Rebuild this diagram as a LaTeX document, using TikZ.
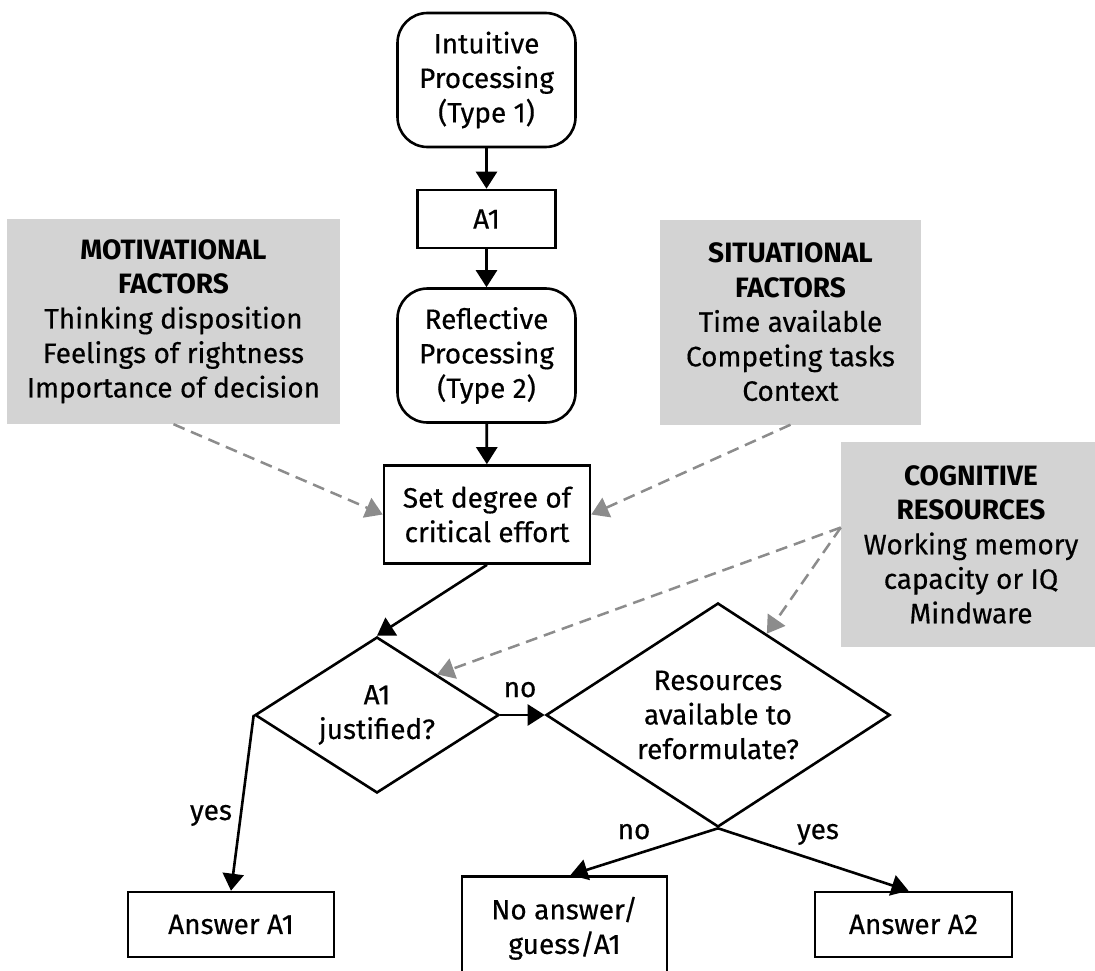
\documentclass[tikz,border=0pt]{standalone}
\usepackage{fontspec}
\setmainfont{Fira Sans}[UprightFeatures={FakeBold=0.4}]
\usetikzlibrary{arrows.meta,shapes.geometric}
\definecolor{factorgray}{HTML}{D3D3D3}
\definecolor{dashgray}{HTML}{8C8C8C}

\begin{document}
\begin{tikzpicture}[x=1pt,y=-1pt,
  every node/.style={font=\fontsize{28}{34.5}\selectfont, align=center, inner sep=0pt},
  flow/.style={draw=black, line width=2.6pt, fill=white},
  procbox/.style={flow, rounded corners=30pt, minimum width=178pt, minimum height=134pt},
  stepbox/.style={flow, rectangle},
  decision/.style={flow, diamond},
  factor/.style={fill=factorgray, minimum height=205pt},
  link/.style={line width=2.6pt, -{Triangle[length=17pt,width=21pt]}},
  influence/.style={draw=dashgray, line width=2.5pt, dash pattern=on 12pt off 7pt,
    -{Triangle[length=17pt,width=21pt]}},
  lbl/.style={anchor=base}
]
\useasboundingbox (0,0) rectangle (1095,971);
\fill[white] (0,0) rectangle (1095,971);
\clip (0,0) rectangle (1095,971);

% influencing factors
\node[factor, minimum width=333pt] (mot) at (173.5,321.5)
  {\textbf{MOTIVATIONAL}\\\textbf{FACTORS}\\Thinking disposition\\Feelings of rightness\\Importance of decision};
\node[factor, minimum width=261pt] (sit) at (790.5,322)
  {\textbf{SITUATIONAL}\\\textbf{FACTORS}\\Time available\\Competing tasks\\Context};
\node[factor, minimum width=260pt] (cog) at (971,544.5)
  {\textbf{COGNITIVE}\\\textbf{RESOURCES}\\Working memory\\capacity or IQ\\Mindware};

% main flow
\node[procbox] (intu) at (486.5,80) {Intuitive\\Processing\\(Type 1)};
\node[stepbox, minimum width=138pt, minimum height=58pt] (a1) at (486.5,219) {A1};
\node[procbox] (refl) at (486.5,355.5) {Reflective\\Processing\\(Type 2)};
\node[stepbox, minimum width=206pt, minimum height=98pt] (effort) at (487,514.5) {Set degree of\\critical effort};
\node[decision, shape aspect=1.564, minimum width=244pt, minimum height=156pt] (just) at (377,715) {A1\\justified?};
\node[decision, shape aspect=1.536, minimum width=344pt, minimum height=224pt] (res) at (718,715) {Resources\\available to\\reformulate?};

% outcomes
\node[stepbox, minimum width=206pt, minimum height=65pt] (ansA) at (231,924.5) {Answer A1};
\node[stepbox, minimum width=205pt, minimum height=104pt, anchor=north] (none) at (564.5,875) {No answer/\\guess/A1};
\node[stepbox, minimum width=197pt, minimum height=65pt] (ansB) at (913.5,924.5) {Answer A2};

% solid connectors
\draw[link] (intu) -- (a1);
\draw[link] (a1) -- (refl);
\draw[link] (refl) -- (effort);
\draw[link] (effort.south) -- (just.north);
\draw[link] (just.east) -- (res.west);
\draw[link] (just.west) -- (ansA.north);
\draw[link] (res.south) -- ([xshift=6pt]none.north);
\draw[link] (res.south) -- ([xshift=-5pt]ansB.north);

% branch labels
\node[lbl] (lno1) at (520,697) {no};
\node[lbl] (lyes1) at (211,820) {yes};
\node[lbl] (lno2) at (634,839) {no};
\node[lbl] (lyes2) at (818,839) {yes};

% dashed influences
\coordinate (cogout) at ([yshift=17pt]cog.west);
\draw[influence] (mot.south) -- (effort.west);
\draw[influence] (sit.south) -- (effort.east);
\draw[influence] (cogout) -- (just.34);
\draw[influence] (cogout) -- (res.59);
\end{tikzpicture}
\end{document}
